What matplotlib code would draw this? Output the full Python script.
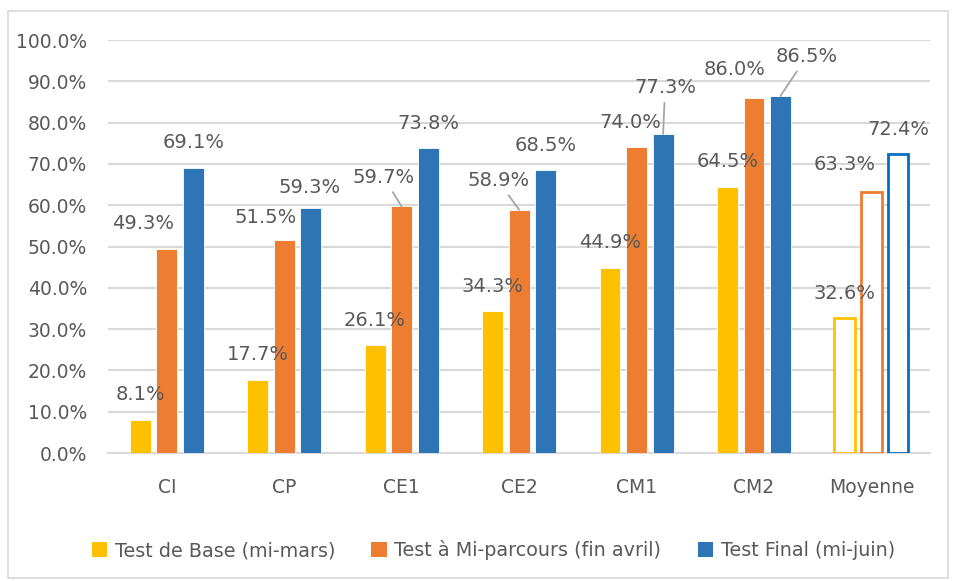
import numpy as np
import matplotlib.pyplot as plt
from matplotlib.patches import Rectangle

# Data
categories = ["CI", "CP", "CE1", "CE2", "CM1", "CM2", "Moyenne"]
series_names = ["Test de Base (mi-mars)", "Test à Mi-parcours (fin avril)", "Test Final (mi-juin)"]
test_base = [8.1, 17.7, 26.1, 34.3, 44.9, 64.5, 32.6]
test_mi = [49.3, 51.5, 59.7, 58.9, 74.0, 86.0, 63.3]
test_final = [69.1, 59.3, 73.8, 68.5, 77.3, 86.5, 72.4]
yticks = list(range(0, 101, 10))

colors = ["#FFC000", "#ED7D31", "#2E75B6"]
hollow_edges = ["#FFC000", "#ED7D31", "#0070C0"]
text_grey = "#595959"

# label offsets in pixels (dx, dy) from the bar top; default is centred above
label_shift = {
    (1, 0): (-24, 26), (1, 1): (-19, 23), (2, 1): (-1, 21),
    (1, 2): (-18, 29), (1, 3): (-21, 29), (1, 4): (-6, 25),
    (2, 4): (2, 46), (1, 5): (-19, 28), (2, 5): (26, 39),
    (1, 6): (-27, 27),
}
leaders = [(1, 2), (1, 3), (2, 4), (2, 5)]

plt.rcParams['font.family'] = ['DejaVu Sans']

fig = plt.figure(figsize=(9.56, 5.81), dpi=100)
ax = fig.add_axes([0.113, 0.2203, 0.860, 0.7108])

# light border around the whole chart
fig.patches.append(Rectangle((8 / 956, 1 - 578 / 581), 940 / 956, 567 / 581,
                             transform=fig.transFigure, fill=False,
                             edgecolor="#D9D9D9", linewidth=1.2))

x = np.arange(len(categories))
width = 0.178
offset = 0.226
all_series = [test_base, test_mi, test_final]

for s, vals in enumerate(all_series):
    face = [colors[s]] * (len(vals) - 1) + ["white"]
    edge = ["white"] * (len(vals) - 1) + [hollow_edges[s]]
    lw = [0.6] * (len(vals) - 1) + [2.0]
    xs = x + (s - 1) * offset
    ax.bar(xs, vals, width=width, color=face, edgecolor=edge, linewidth=lw,
           label=series_names[s], zorder=3)
    for i, v in enumerate(vals):
        dx, dy = label_shift.get((s, i), (0, 25))
        kw = {}
        if (s, i) in leaders:
            kw["arrowprops"] = dict(arrowstyle="-", color="#A6A6A6", lw=1.3,
                                    shrinkA=2, shrinkB=0)
        ax.annotate(f"{v:.1f}%", xy=(xs[i], v), xytext=(dx, dy),
                    textcoords="offset pixels", ha="center", va="center",
                    fontsize=14, color=text_grey, zorder=5, **kw)

ax.set_xlim(-0.5, len(categories) - 0.5)
ax.set_ylim(0, 100)
ax.set_yticks(yticks)
ax.set_yticklabels([f"{t:.1f}%" for t in yticks])
ax.set_xticks(x)
ax.set_xticklabels(categories)
ax.tick_params(axis="y", length=0, pad=15, labelsize=13.5, labelcolor=text_grey)
ax.tick_params(axis="x", length=0, pad=18, labelsize=13.5, labelcolor=text_grey)
ax.grid(axis="y", color="#D9D9D9", linewidth=1.5, zorder=0)
for side in ["top", "right", "left"]:
    ax.spines[side].set_visible(False)
ax.spines["bottom"].set_color("#D9D9D9")
ax.spines["bottom"].set_linewidth(1.5)

# legend uses solid patches for every series
handles = [Rectangle((0, 0), 1, 1, facecolor=c) for c in colors]
fig.legend(handles, series_names, loc="center", bbox_to_anchor=(0.516, 0.053),
           ncol=3, frameon=False, fontsize=13.8, labelcolor=text_grey,
           handlelength=0.8, handleheight=0.8, handletextpad=0.4,
           columnspacing=1.9)

fig.savefig("out.png", dpi=100)
